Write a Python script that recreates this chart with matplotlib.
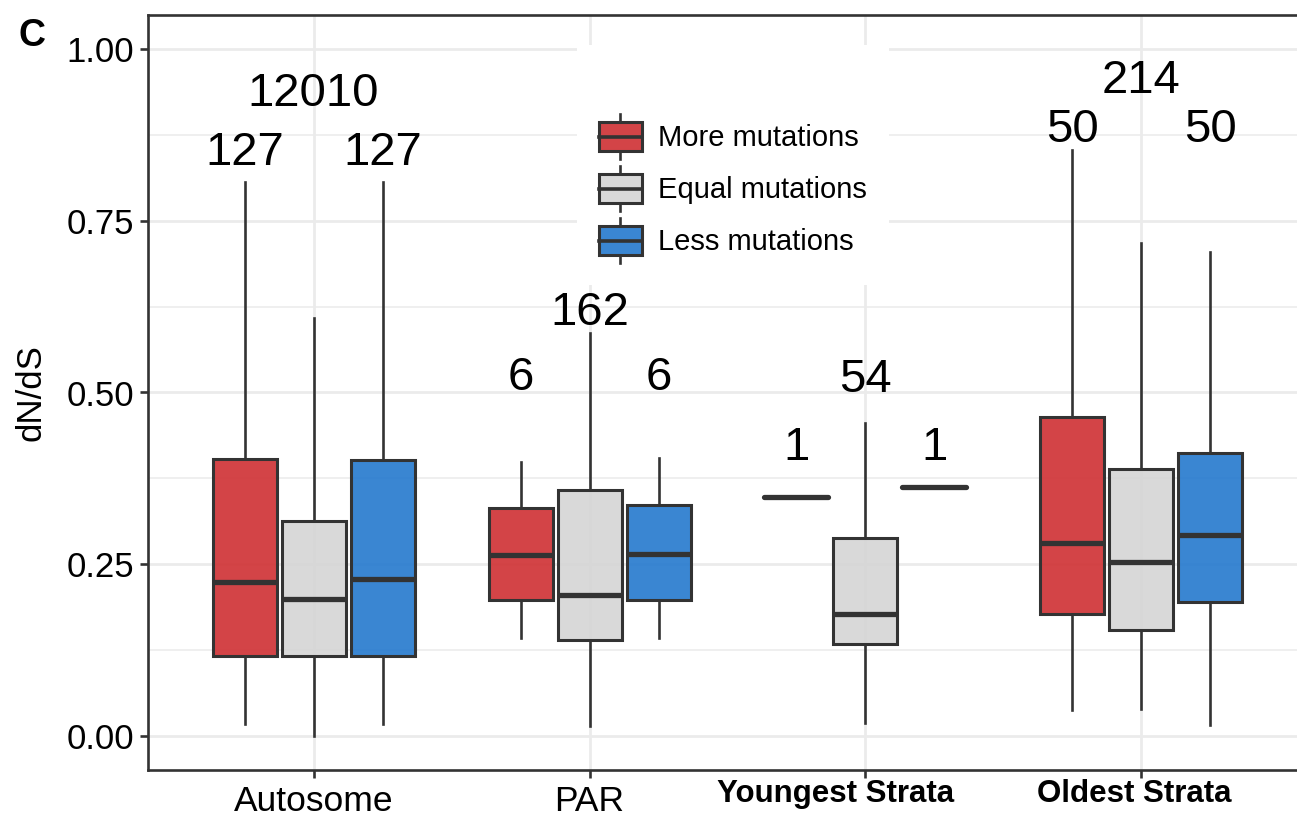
import matplotlib
matplotlib.use("Agg")
import matplotlib.pyplot as plt
from matplotlib.legend_handler import HandlerBase
from matplotlib.patches import Patch, Rectangle
from matplotlib.lines import Line2D
from matplotlib.ticker import MultipleLocator
from matplotlib.transforms import ScaledTranslation

plt.rcParams["font.family"] = ["Liberation Sans", "DejaVu Sans"]

categories = ["Autosome", "PAR", "Youngest Strata", "Oldest Strata"]
groups = ["More mutations", "Equal mutations", "Less mutations"]

# box statistics per category (lower whisker, Q1, median, Q3, upper whisker)
more_lo = [0.017, 0.143, 0.348, 0.037]
more_q1 = [0.1165, 0.198, 0.348, 0.178]
more_med = [0.224, 0.263, 0.348, 0.281]
more_q3 = [0.403, 0.332, 0.348, 0.464]
more_hi = [0.807, 0.399, 0.348, 0.853]

equal_lo = [0.0, 0.014, 0.019, 0.039]
equal_q1 = [0.1156, 0.139, 0.133, 0.154]
equal_med = [0.199, 0.205, 0.177, 0.253]
equal_q3 = [0.313, 0.358, 0.288, 0.388]
equal_hi = [0.609, 0.587, 0.455, 0.718]

less_lo = [0.017, 0.143, 0.3625, 0.015]
less_q1 = [0.1156, 0.198, 0.3625, 0.195]
less_med = [0.229, 0.265, 0.3625, 0.293]
less_q3 = [0.401, 0.336, 0.3625, 0.412]
less_hi = [0.807, 0.405, 0.3625, 0.704]

# number of genes in each group and where the count is written
more_n = [127, 6, 1, 50]
equal_n = [12010, 162, 54, 214]
less_n = [127, 6, 1, 50]
side_label_y = [0.831, 0.504, 0.401, 0.865]
mid_label_y = [0.918, 0.598, 0.501, 0.936]

fills = ["#cf3033", "#d5d5d5", "#2479ce"]
edge = "#333333"
box_alpha = 0.9
dodge = 0.25
box_w = 0.232

# panel runs past the right edge of the figure
fig = plt.figure(figsize=(12.97, 8.21), dpi=100)
ax = fig.add_axes([148 / 1297, 51 / 821, 1180 / 1297, 755 / 821])

series = [
    (more_lo, more_q1, more_med, more_q3, more_hi, more_n, side_label_y),
    (equal_lo, equal_q1, equal_med, equal_q3, equal_hi, equal_n, mid_label_y),
    (less_lo, less_q1, less_med, less_q3, less_hi, less_n, side_label_y),
]

for gi, (lo, q1, med, q3, hi, n, ly) in enumerate(series):
    off = (gi - 1) * dodge
    stats = []
    for ci in range(len(categories)):
        stats.append(dict(whislo=lo[ci], q1=q1[ci], med=med[ci], q3=q3[ci],
                          whishi=hi[ci], fliers=[]))
    pos = [ci + 1 + off for ci in range(len(categories))]
    bp = ax.bxp(stats, positions=pos, widths=box_w, patch_artist=True,
                showcaps=False, showfliers=False, manage_ticks=False,
                boxprops=dict(facecolor=matplotlib.colors.to_rgba(fills[gi], box_alpha),
                              edgecolor=edge, linewidth=2.2),
                medianprops=dict(color=edge, linewidth=3.8, solid_capstyle="butt"),
                whiskerprops=dict(color=edge, linewidth=1.9))
    for ci, m in enumerate(bp["medians"]):
        # single-gene groups collapse to one rounded bar
        if q1[ci] == q3[ci]:
            m.set_solid_capstyle("round")
    for artist in bp["boxes"] + bp["medians"] + bp["whiskers"]:
        artist.set_zorder(3)
    for ci in range(len(categories)):
        ax.text(pos[ci], ly[ci], str(n[ci]), ha="center", va="baseline",
                fontsize=34, color="black", zorder=4)

ax.set_xlim(0.4, 0.4 + 4.2 * 1180 / 1159)
ax.set_ylim(-0.05, 1.05)
ax.set_yticks([0, 0.25, 0.5, 0.75, 1.0])
ax.set_yticklabels(["0.00", "0.25", "0.50", "0.75", "1.00"])
ax.yaxis.set_minor_locator(MultipleLocator(0.125))
ax.set_xticks(range(1, len(categories) + 1))
ax.set_xticklabels(categories)

ax.grid(True, which="major", color="#ebebeb", linewidth=2.0)
ax.grid(True, which="minor", axis="y", color="#ebebeb", linewidth=1.1)
ax.set_axisbelow(True)

for side in ["left", "bottom", "top"]:
    ax.spines[side].set_color(edge)
    ax.spines[side].set_linewidth(1.9)
ax.spines["right"].set_visible(False)

ax.tick_params(axis="both", which="major", length=6, width=1.9, color=edge,
               labelsize=25, labelcolor="black")
ax.tick_params(axis="y", which="minor", length=0)
ax.tick_params(axis="y", pad=4)
ax.tick_params(axis="x", pad=5)

strata_shift = {"Youngest Strata": -30, "Oldest Strata": -7}
for lbl in ax.get_xticklabels():
    txt = lbl.get_text()
    if txt in strata_shift:
        lbl.set_fontsize(22.5)
        lbl.set_fontweight("bold")
        lbl.set_transform(lbl.get_transform() + ScaledTranslation(
            strata_shift[txt] / 100, 6 / 100, fig.dpi_scale_trans))
    else:
        lbl.set_fontsize(25.5)

ax.set_ylabel("dN/dS", fontsize=25)
ax.yaxis.set_label_coords(-0.087 * 1159 / 1180, 0.5)

fig.text(18 / 1297, 1 - 18 / 821, "C", fontsize=27, fontweight="bold",
         ha="left", va="top")


class BoxKey(HandlerBase):
    # small boxplot glyph for the legend keys
    def create_artists(self, legend, orig_handle, xdescent, ydescent,
                       width, height, fontsize, trans):
        cx = width / 2 - xdescent
        bh = height * 0.64
        by = -ydescent + (height - bh) / 2
        rect = Rectangle((-xdescent, by), width, bh,
                         facecolor=orig_handle.get_facecolor(),
                         edgecolor=edge, linewidth=2.2, transform=trans)
        mid = Line2D([-xdescent, width - xdescent], [by + bh / 2] * 2,
                     color=edge, linewidth=2.6, transform=trans)
        wl = Line2D([cx, cx], [-ydescent, by], color=edge, linewidth=1.9,
                    transform=trans)
        wh = Line2D([cx, cx], [by + bh, height - ydescent], color=edge,
                    linewidth=1.9, transform=trans)
        return [wl, wh, rect, mid]


handles = [Patch(facecolor=matplotlib.colors.to_rgba(c, box_alpha)) for c in fills]
leg = ax.legend(handles, groups, handler_map={Patch: BoxKey()},
                loc="upper left", bbox_to_anchor=(429 / 1180, 0.960), borderaxespad=0,
                fontsize=21, title=" ", title_fontsize=31,
                handlelength=1.47, handleheight=2.0, handletextpad=0.55,
                labelspacing=0.24, borderpad=0.75, frameon=True,
                fancybox=False, framealpha=1.0)
leg.get_frame().set_facecolor("white")
leg.get_frame().set_edgecolor("none")
leg.set_zorder(5)

fig.savefig("out.png", dpi=100)
